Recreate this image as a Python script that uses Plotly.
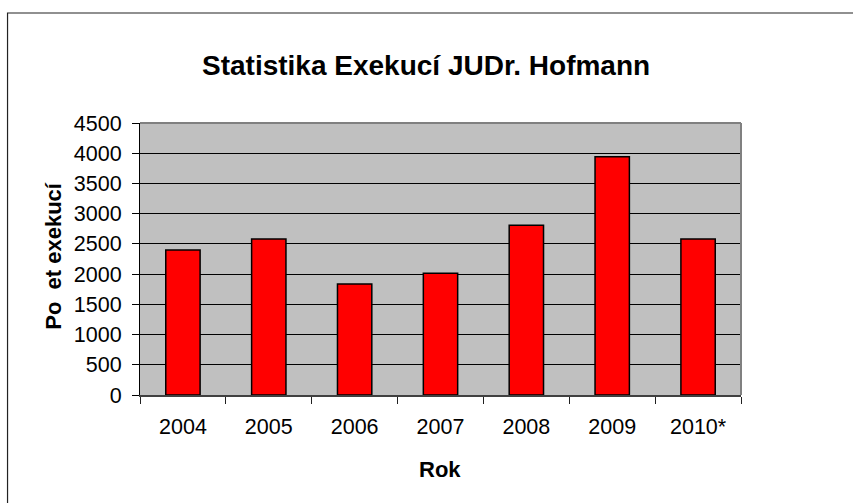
import plotly.graph_objects as go

years = ["2004", "2005", "2006", "2007", "2008", "2009", "2010*"]
counts = [2400, 2580, 1835, 2015, 2810, 3940, 2580]
y_ticks = [0, 500, 1000, 1500, 2000, 2500, 3000, 3500, 4000, 4500]

title_text = "Statistika Exekucí JUDr. Hofmann"
x_title = "Rok"
y_title = "Po\u00a0\u00a0et exekucí"

FONT = "Liberation Sans, Arial, sans-serif"

fig = go.Figure(
    go.Bar(
        x=years,
        y=counts,
        width=0.4,
        marker=dict(color="#FF0000", line=dict(color="#000000", width=1.5)),
    )
)

fig.update_layout(
    width=853,
    height=503,
    margin=dict(l=139.5, r=112.3, t=123, b=108, autoexpand=False),
    paper_bgcolor="white",
    plot_bgcolor="#C0C0C0",
    showlegend=False,
    font=dict(family=FONT, size=22, color="black"),
    bargap=0.6,
)

fig.update_xaxes(
    type="category",
    showline=True,
    linecolor="#404040",
    linewidth=1.5,
    ticks="outside",
    tickson="boundaries",
    ticklen=7,
    tickcolor="#202020",
    tickwidth=1,
    showgrid=False,
    ticklabelstandoff=11,
    tickfont=dict(family=FONT, size=21.5, color="black"),
)

fig.update_yaxes(
    range=[0, 4500],
    tickvals=y_ticks,
    showline=True,
    linecolor="black",
    linewidth=1,
    ticks="outside",
    ticklen=7,
    tickcolor="black",
    showgrid=True,
    gridcolor="black",
    gridwidth=1,
    zeroline=False,
    ticklabelstandoff=6,
    tickfont=dict(family=FONT, size=21.5, color="black"),
)

shapes = [
    dict(type="line", xref="paper", yref="paper", x0=0, x1=1, y0=1, y1=1,
         line=dict(color="#808080", width=2)),
    dict(type="line", xref="paper", yref="paper", x0=1, x1=1, y0=0, y1=1,
         line=dict(color="#808080", width=2)),
    dict(type="rect", xref="paper", yref="paper", x0=-0.2204, x1=1.3, y0=-0.6, y1=1.4044,
         line=dict(color="#222222", width=1.2), layer="below"),
]
fig.update_layout(shapes=shapes)

fig.add_annotation(text="<b>" + title_text + "</b>", xref="paper", yref="paper",
                   x=0.4766, y=1.213, xanchor="center", yanchor="middle", showarrow=False,
                   font=dict(family=FONT, size=28, color="black"))
fig.add_annotation(text="<b>" + x_title + "</b>", xref="paper", yref="paper",
                   x=0.4998, y=-0.2757, xanchor="center", yanchor="middle", showarrow=False,
                   font=dict(family=FONT, size=22, color="black"))
fig.add_annotation(text="<b>" + y_title + "</b>", xref="paper", yref="paper",
                   x=-0.1439, y=0.51, xanchor="center", yanchor="middle", showarrow=False,
                   textangle=-90,
                   font=dict(family=FONT, size=22, color="black"))

fig.write_html("out.html", config={"displayModeBar": False},
               post_script="document.body.style.margin='0';")
